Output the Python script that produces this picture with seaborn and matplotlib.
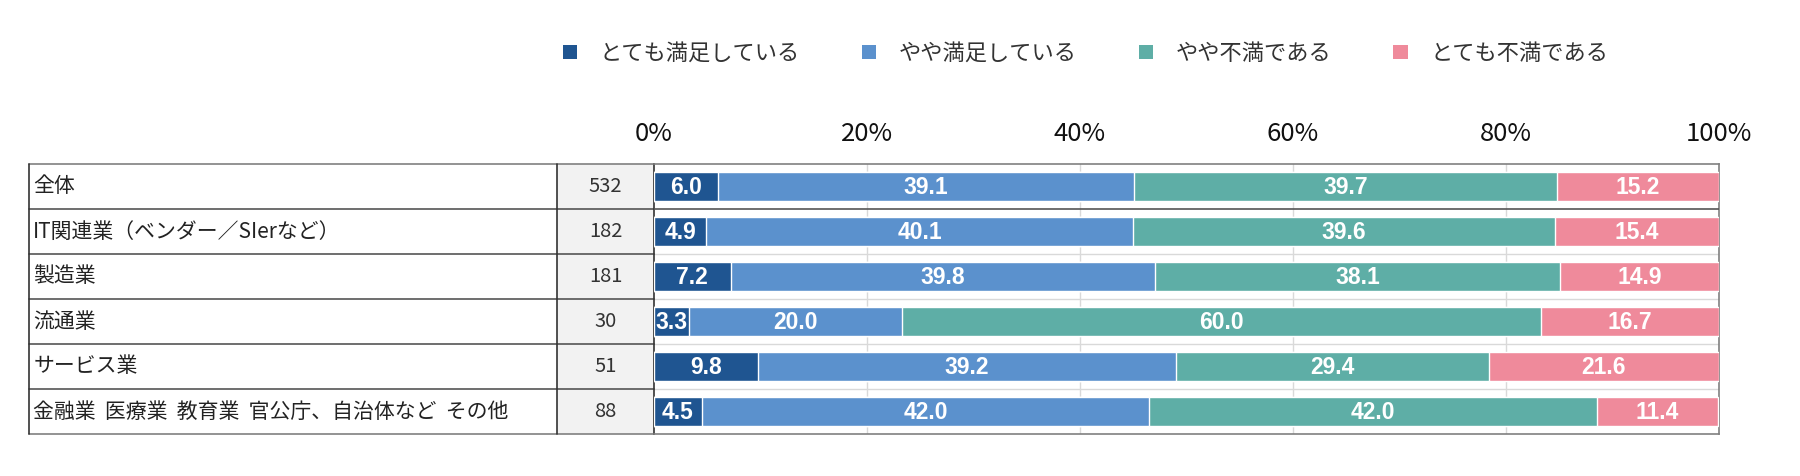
import numpy as np
import pandas as pd
import matplotlib
matplotlib.use("Agg")
import matplotlib.pyplot as plt
from matplotlib.patches import Patch, Rectangle
import matplotlib.transforms as mtransforms
import seaborn as sns

# data
categories = ["全体", "IT関連業（ベンダー／SIerなど）", "製造業", "流通業", "サービス業",
              "金融業  医療業  教育業  官公庁、自治体など  その他"]
n_counts = [532, 182, 181, 30, 51, 88]
series_names = ["とても満足している", "やや満足している", "やや不満である", "とても不満である"]
very_satisfied = [6.0, 4.9, 7.2, 3.3, 9.8, 4.5]
somewhat_satisfied = [39.1, 40.1, 39.8, 20.0, 39.2, 42.0]
somewhat_unsatisfied = [39.7, 39.6, 38.1, 60.0, 29.4, 42.0]
very_unsatisfied = [15.2, 15.4, 14.9, 16.7, 21.6, 11.4]
tick_values = [0, 20, 40, 60, 80, 100]

colors = ["#1f5591", "#5b91cd", "#5eaea6", "#ef8a9b"]

sns.set_theme(style="white")
plt.rcParams["font.family"] = ["Noto Sans CJK JP", "DejaVu Sans"]

series = [very_satisfied, somewhat_satisfied, somewhat_unsatisfied, very_unsatisfied]
cum = np.cumsum(np.array(series), axis=0)

fig = plt.figure(figsize=(18, 4.76), dpi=100)
ax = fig.add_axes([654 / 1800, 1 - 434 / 476, 1065 / 1800, 270 / 476])

# stacked bars: draw cumulative totals from the right-most layer down
for i in range(len(series) - 1, -1, -1):
    df = pd.DataFrame({"cat": categories, "val": cum[i]})
    sns.barplot(data=df, x="val", y="cat", orient="h", color=colors[i],
                width=0.66, saturation=1, ax=ax, zorder=3)

# value labels
for i, vals in enumerate(series):
    for r, v in enumerate(vals):
        center = cum[i][r] - v / 2
        ax.text(center, r + 0.02, f"{v:.1f}", ha="center", va="center", color="white",
                fontsize=16.5, fontweight="bold",
                family=["Liberation Sans Narrow", "Liberation Sans", "DejaVu Sans"], zorder=5)

ax.set_xlim(0, 100)
ax.set_ylim(len(categories) - 0.5, -0.5)
ax.set_xlabel("")
ax.set_ylabel("")
ax.set_yticks([])
ax.set_xticks(tick_values)
ax.set_xticklabels([f"{t}%" for t in tick_values], fontsize=18.5, color="#111111")
ax.xaxis.tick_top()
ax.tick_params(axis="x", length=0, pad=12)
for t in tick_values[1:-1]:
    ax.axvline(t, color="#d9d9d9", lw=1, zorder=1)
for b in np.arange(1.5, len(categories) - 0.5, 1):
    ax.axhline(b, color="#d9d9d9", lw=1, zorder=1)
ax.axhline(0.5, color="#555555", lw=1.2, zorder=4)
for s in ["top", "right", "bottom"]:
    ax.spines[s].set_color("#808080")
    ax.spines[s].set_linewidth(1.2)
ax.spines["left"].set_color("#333333")
ax.spines["left"].set_linewidth(1.2)

# table on the left (axes x, data y)
trans = mtransforms.blended_transform_factory(ax.transAxes, ax.transData)
x_left = (29 - 654) / 1065
x_div = (557 - 654) / 1065
ax.add_patch(Rectangle((x_div, -0.5), -x_div, len(categories), transform=trans,
                       facecolor="#f2f2f2", edgecolor="none", clip_on=False, zorder=0))
for b in np.arange(-0.5, len(categories), 1):
    ax.plot([x_left, 0], [b, b], transform=trans, color="#555555" if 0 < b < 5 else "#808080",
            lw=1.2, clip_on=False)
for xv in [x_left, x_div]:
    ax.plot([xv, xv], [-0.5, len(categories) - 0.5], transform=trans, color="#333333",
            lw=1.2, clip_on=False)
for r, (cat, n) in enumerate(zip(categories, n_counts)):
    ax.text(x_left + 0.004, r, cat, transform=trans, ha="left", va="center",
            fontsize=15, color="#222222")
    ax.text(x_div / 2, r, str(n), transform=trans, ha="center", va="center",
            fontsize=14.5, color="#333333")

# legend
handles = [Patch(facecolor=c, edgecolor="none") for c in colors]
fig.legend(handles, series_names, loc="center", bbox_to_anchor=(0.603, 0.888), ncol=4,
           frameon=False, fontsize=16, handlelength=0.65, handleheight=0.65,
           handletextpad=1.0, columnspacing=2.8, labelcolor="#333333")

fig.savefig("out.png", dpi=100)
